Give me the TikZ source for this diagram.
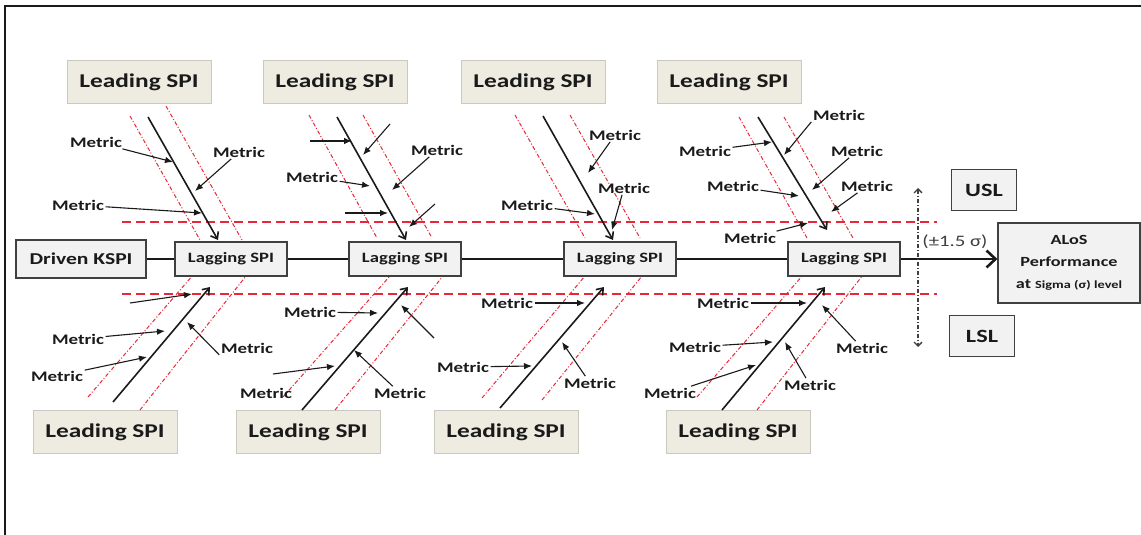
\documentclass[tikz,border=0pt]{standalone}
\usepackage{fontspec}
\setmainfont{Carlito}[FakeStretch=1.3]
\usetikzlibrary{arrows.meta}
\definecolor{leadfill}{HTML}{EEECE1}
\definecolor{boxfill}{HTML}{F2F2F2}
\definecolor{ink}{HTML}{1A1A1A}
\definecolor{guide}{HTML}{E8283A}

\begin{document}
\begin{tikzpicture}[x=1pt,y=-1pt,
  lead/.style={fill=leadfill,draw=leadfill!85!black,line width=0.4pt,minimum width=144pt,minimum height=43pt,inner sep=0pt,font=\fontsize{19.5}{21}\selectfont\bfseries,text=ink},
  lag/.style={fill=boxfill,draw=black!75,line width=1.2pt,minimum width=112pt,minimum height=34pt,inner sep=0pt,font=\fontsize{14.3}{16}\selectfont\bfseries,text=ink},
  limit/.style={lag,minimum width=65pt,minimum height=41pt,font=\fontsize{18.7}{20}\selectfont\bfseries},
  metric/.style={inner sep=1.5pt,font=\fontsize{14.6}{16}\selectfont\bfseries,text=ink},
  feed/.style={-{Latex[length=8pt,width=6.5pt]},line width=1.1pt,ink},
  bone/.style={-{Straight Barb[length=6pt,width=9pt]},line width=1.6pt,ink},
  guideline/.style={guide,line width=1pt,dash pattern=on 4pt off 2pt on 1pt off 2pt},
  limitline/.style={guide,line width=1.7pt,dash pattern=on 9pt off 5pt},
]
\useasboundingbox (0,0) rectangle (1141,535);
\draw[line width=1.5pt,ink] (5,535) -- (5,6) -- (1141,6);

% boxes
\node[lead] (LEAD1T) at (139,82) {Leading SPI};
\node[lead] (LEAD2T) at (335,82) {Leading SPI};
\node[lead] (LEAD3T) at (533,82) {Leading SPI};
\node[lead] (LEAD4T) at (729,82) {Leading SPI};
\node[lead] (LEAD1B) at (105,432) {Leading SPI};
\node[lead] (LEAD2B) at (308,432) {Leading SPI};
\node[lead] (LEAD3B) at (506,432) {Leading SPI};
\node[lead] (LEAD4B) at (738,432) {Leading SPI};

% limit lines and guides
\draw[limitline] (122,222) -- (937,222);
\draw[limitline] (122,294) -- (937,294);
\draw[guideline] (130,116) -- (200,240);
\draw[guideline] (166,106) -- (242,240);
\draw[guideline] (309,115) -- (377,238);
\draw[guideline] (363,115) -- (432,238);
\draw[guideline] (515,115) -- (585,238);
\draw[guideline] (570,115) -- (640,238);
\draw[guideline] (739,117) -- (807,238);
\draw[guideline] (784,117) -- (853,238);
\draw[guideline] (88,397) -- (193,275);
\draw[guideline] (140,410) -- (246,276);
\draw[guideline] (283,397) -- (390,276);
\draw[guideline] (335,410) -- (443,276);
\draw[guideline] (482,398) -- (585,276);
\draw[guideline] (542,400) -- (642,276);
\draw[guideline] (697,397) -- (803,275);
\draw[guideline] (757,410) -- (863,275);

\node[lag,minimum width=130pt,minimum height=38pt,font=\fontsize{16.6}{18}\selectfont\bfseries] (DRIVEN) at (81,259) {Driven KSPI};
\node[lag] (LAG1) at (231,259) {Lagging SPI};
\node[lag] (LAG2) at (405,259) {Lagging SPI};
\node[lag] (LAG3) at (620,259) {Lagging SPI};
\node[lag] (LAG4) at (844,259) {Lagging SPI};
\node[limit] (USL) at (984,190) {USL};
\node[limit] (LSL) at (982,336) {LSL};
\node[lag,minimum width=142pt,minimum height=80pt,align=center,font=\fontsize{14}{22}\selectfont\bfseries] (ALOS) at (1069,263) {ALoS\\Performance\\at {\fontsize{11}{22}\selectfont Sigma (σ) level}};

% spine
\draw[line width=2.6pt,ink] (DRIVEN) -- (LAG1) -- (LAG2) -- (LAG3) -- (LAG4);
\draw[line width=2.6pt,ink,-{Straight Barb[length=9pt,width=17pt]}] (LAG4) -- (LAG4 -| ALOS.west);

% sigma band
\coordinate (SIGU) at (918,188);
\coordinate (SIGD) at (918,347);
\draw[black!75,line width=1.3pt,dash pattern=on 4pt off 2pt on 1pt off 2pt,{Straight Barb[length=4pt,width=8pt]}-{Straight Barb[length=4pt,width=8pt]}] (SIGU) -- (SIGD);
\node[text=black!75,font=\fontsize{16}{18}\selectfont] (SIGMA) at (955,242) {(±1.5 σ)};

% bones
\coordinate (T1S) at (148,117); \coordinate (T1E) at (218,240);
\coordinate (T2S) at (337,117); \coordinate (T2E) at (406,240);
\coordinate (T3S) at (543,116); \coordinate (T3E) at (613,240);
\coordinate (T4S) at (758,117); \coordinate (T4E) at (827,230);
\coordinate (B1S) at (113,402); \coordinate (B1E) at (210,287);
\coordinate (B2S) at (302,410); \coordinate (B2E) at (408,287);
\coordinate (B3S) at (500,408); \coordinate (B3E) at (604,287);
\coordinate (B4S) at (722,410); \coordinate (B4E) at (825,287);
\draw[bone] (T1S) -- (T1E);
\draw[bone] (T2S) -- (T2E);
\draw[bone] (T3S) -- (T3E);
\draw[bone] (T4S) -- (T4E);
\draw[bone] (B1S) -- (B1E);
\draw[bone] (B2S) -- (B2E);
\draw[bone] (B3S) -- (B3E);
\draw[bone] (B4S) -- (B4E);

% metrics, first bone pair
\node[metric] (M1A) at (96,142) {Metric};
\node[metric] (M1B) at (239,152) {Metric};
\node[metric] (M1C) at (78,205) {Metric};
\node[metric] (M1E) at (78,339) {Metric};
\node[metric] (M1F) at (57,376) {Metric};
\node[metric] (M1G) at (247,348) {Metric};
\coordinate (P1A) at (173,162);
\coordinate (P1B) at (195,191);
\coordinate (P1C) at (202,213);
\coordinate (Q1D) at (130,303); \coordinate (P1D) at (192,294);
\coordinate (P1E) at (165,331);
\coordinate (P1F) at (147,357);
\coordinate (P1G) at (187,322);
\draw[feed] (M1A) -- (P1A);
\draw[feed] (M1B) -- (P1B);
\draw[feed] (M1C) -- (P1C);
\draw[feed] (Q1D) -- (P1D);
\draw[feed] (M1E) -- (P1E);
\draw[feed] (M1F) -- (P1F);
\draw[feed] (M1G.south west) -- (P1G);

% second bone pair
\node[metric] (M2J) at (437,150) {Metric};
\node[metric] (M2K) at (312,177) {Metric};
\node[metric] (M2N) at (310,312) {Metric};
\node[metric] (M2O) at (266,393) {Metric};
\node[metric] (M2P) at (400,393) {Metric};
\coordinate (Q2H) at (310,141); \coordinate (P2H) at (352,141);
\coordinate (Q2I) at (390,124); \coordinate (P2I) at (363,155);
\coordinate (P2J) at (392,190);
\coordinate (P2K) at (370,186);
\coordinate (Q2L) at (345,213); \coordinate (P2L) at (388,213);
\coordinate (Q2M) at (435,204); \coordinate (P2M) at (409,227);
\coordinate (P2N) at (378,313);
\coordinate (Q2O) at (273,374); \coordinate (P2O) at (335,366);
\coordinate (P2P) at (354,350);
\coordinate (Q2Q) at (434,338); \coordinate (P2Q) at (401,305);
\draw[feed] (Q2H) -- (P2H);
\draw[feed] (Q2I) -- (P2I);
\draw[feed] (M2J) -- (P2J);
\draw[feed] (M2K) -- (P2K);
\draw[feed] (Q2L) -- (P2L);
\draw[feed] (Q2M) -- (P2M);
\draw[feed] (M2N) -- (P2N);
\draw[feed] (Q2O) -- (P2O);
\draw[feed] (M2P) -- (P2P);
\draw[feed] (Q2Q) -- (P2Q);

% third bone pair
\node[metric] (M3R) at (527,205) {Metric};
\node[metric] (M3S) at (615,135) {Metric};
\node[metric] (M3T) at (624,188) {Metric};
\node[metric] (M3U) at (507,303) {Metric};
\node[metric] (M3V) at (463,367) {Metric};
\node[metric] (M3W) at (590,383) {Metric};
\coordinate (P3R) at (595,214);
\coordinate (P3S) at (588,173);
\coordinate (P3T) at (612,230);
\coordinate (P3U) at (585,303);
\coordinate (P3V) at (532,366);
\coordinate (P3W) at (562,342);
\draw[feed] (M3R) -- (P3R);
\draw[feed] (M3S) -- (P3S);
\draw[feed] (M3T) -- (P3T);
\draw[feed] (M3U) -- (P3U);
\draw[feed] (M3V) -- (P3V);
\draw[feed] (M3W) -- (P3W);

% fourth bone pair
\node[metric] (M4X) at (839,115) {Metric};
\node[metric] (M4Y) at (705,151) {Metric};
\node[metric] (M4Z) at (857,151) {Metric};
\node[metric] (M4AA) at (733,186) {Metric};
\node[metric] (M4BB) at (867,186) {Metric};
\node[metric] (M4CC) at (750,238) {Metric};
\node[metric] (M4DD) at (723,303) {Metric};
\node[metric] (M4EE) at (695,347) {Metric};
\node[metric] (M4FF) at (670,393) {Metric};
\node[metric] (M4GG) at (810,385) {Metric};
\node[metric] (M4HH) at (862,348) {Metric};
\coordinate (P4X) at (784,155);
\coordinate (P4Y) at (772,142);
\coordinate (P4Z) at (812,190);
\coordinate (P4AA) at (799,196);
\coordinate (P4BB) at (831,212);
\coordinate (P4CC) at (808,223);
\coordinate (P4DD) at (807,303);
\coordinate (P4EE) at (773,342);
\coordinate (P4FF) at (756,365);
\coordinate (P4GG) at (785,342);
\coordinate (P4HH) at (822,305);
\draw[feed] (M4X.south west) -- (P4X);
\draw[feed] (M4Y) -- (P4Y);
\draw[feed] (M4Z) -- (P4Z);
\draw[feed] (M4AA) -- (P4AA);
\draw[feed] (M4BB) -- (P4BB);
\draw[feed] (M4CC) -- (P4CC);
\draw[feed] (M4DD) -- (P4DD);
\draw[feed] (M4EE) -- (P4EE);
\draw[feed] (M4FF) -- (P4FF);
\draw[feed] (M4GG) -- (P4GG);
\draw[feed] (M4HH) -- (P4HH);
\end{tikzpicture}
\end{document}
